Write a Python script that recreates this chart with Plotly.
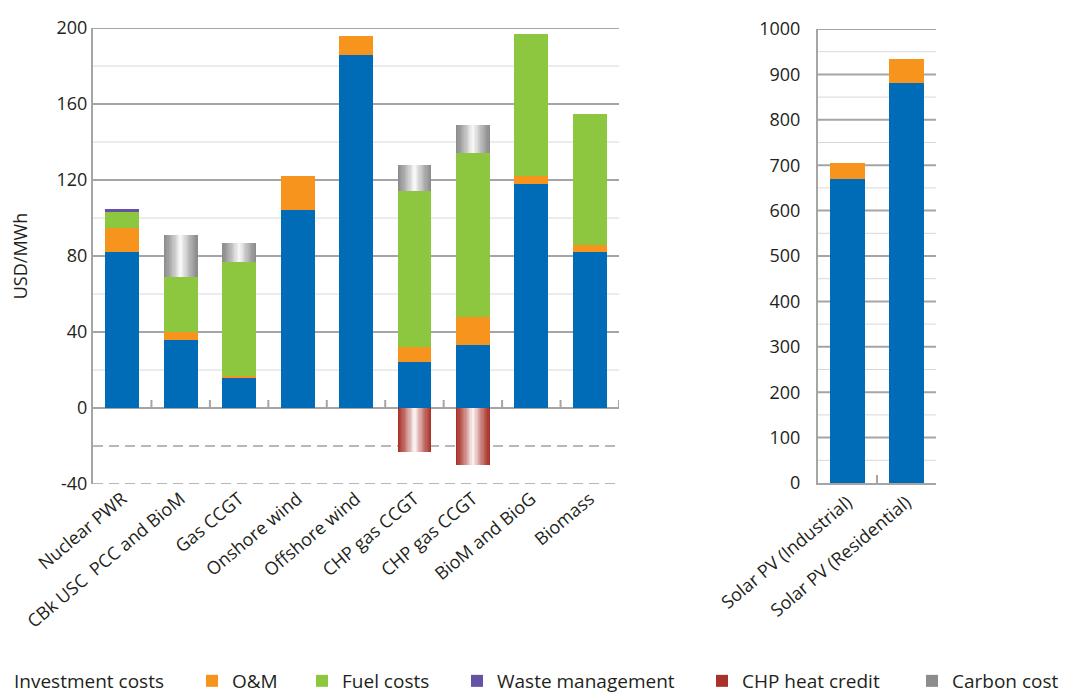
import plotly.graph_objects as go
import numpy as np

# ---------------- data ----------------
categories_left = ["Nuclear PWR", "CBk USC  PCC and BioM", "Gas CCGT", "Onshore wind",
                   "Offshore wind", "CHP gas CCGT", "CHP gas CCGT", "BioM and BioG", "Biomass"]
investment_left = [82, 36, 16, 104, 186, 24, 33, 118, 82]
om_left = [13, 4, 1, 18, 10, 8, 15, 4, 4]
fuel_left = [8, 29, 60, 0, 0, 82, 86, 75, 69]
waste_left = [2, 0, 0, 0, 0, 0, 0, 0, 0]
carbon_left = [0, 22, 10, 0, 0, 14, 15, 0, 0]
chp_credit_left = [0, 0, 0, 0, 0, -23, -30, 0, 0]

categories_right = ["Solar PV (Industrial)", "Solar PV (Residential)"]
investment_right = [670, 880]
om_right = [35, 54]

left_ticks = [-40, 0, 40, 80, 120, 160, 200]
left_major_grid = [0, 40, 80, 120, 160, 200]
left_minor_grid = [20, 60, 100, 140, 180]
left_dashed_grid = [-20, -40]
right_ticks = [0, 100, 200, 300, 400, 500, 600, 700, 800, 900, 1000]
right_minor_grid = [50, 150, 250, 350, 450, 550, 650, 750, 850, 950]

series_names = ["Investment costs", "O&M", "Fuel costs", "Waste management",
                "CHP heat credit", "Carbon cost"]

# ---------------- style ----------------
C_INV = "#006cb8"
C_OM = "#f7941d"
C_FUEL = "#8dc63f"
C_WASTE = "#6652a2"
C_CHP = "#a8322a"
C_CARBON = "#8c8c8c"
GRID_MAJOR = "#a5a5a5"
GRID_MINOR = "#d8d8d8"
TXT = "#231f20"
FONT = "Open Sans"
BAR_W = 0.58
FS = 18

# figure is placed with the page's 8px body margin; layout in figure pixels
W, H = 1063, 687
OFF = 8


def fx(px):
    return (px - OFF) / W


def fy(py):
    return 1 - (py - OFF) / H


legend_text_x = [14, 232, 342, 497, 742, 952]   # page x where each legend label starts
legend_y = 681
ITEMW = 30
legend_ids = ["legend", "legend2", "legend3", "legend4", "legend5", "legend6"]
leg_of = dict(zip(series_names, legend_ids))

x_left = np.arange(len(categories_left))
inv_l = np.array(investment_left, float)
om_l = np.array(om_left, float)
fuel_l = np.array(fuel_left, float)
waste_l = np.array(waste_left, float)
carbon_l = np.array(carbon_left, float)
chp_l = np.array(chp_credit_left, float)

base_inv = np.zeros_like(inv_l)
base_om = base_inv + inv_l
base_fuel = base_om + om_l
base_waste = base_fuel + fuel_l
base_carbon = base_waste + waste_l

inv_r = np.array(investment_right, float)
om_r = np.array(om_right, float)


def mix(c, t):
    c = c.lstrip("#")
    r, g, b = int(c[0:2], 16), int(c[2:4], 16), int(c[4:6], 16)
    r = round(r + (255 - r) * t)
    g = round(g + (255 - g) * t)
    b = round(b + (255 - b) * t)
    return f"rgb({r},{g},{b})"


fig = go.Figure()


def solid(name, x, y, base, color, xa, ya, show):
    fig.add_trace(go.Bar(
        x=x, y=y, base=base, name=name, width=BAR_W,
        marker=dict(color=color, line=dict(width=0)),
        xaxis=xa, yaxis=ya, legendgroup=name, showlegend=show, legend=leg_of[name],
    ))


def gradient(name, x, y, base, color, xa, ya, n=14):
    for k in range(n):
        frac = 1 - k / n
        d = 1 - (k + 0.5) / n  # distance from centre for the visible strip
        t = (1 - d) ** 1.3 * 0.97
        fig.add_trace(go.Bar(
            x=x, y=y, base=base, name=name, width=BAR_W * frac,
            marker=dict(color=mix(color, t) if k else color, line=dict(width=0)),
            xaxis=xa, yaxis=ya, legendgroup=name, showlegend=(k == 0), legend=leg_of[name],
        ))


solid("Investment costs", x_left, inv_l, base_inv, C_INV, "x", "y", True)
solid("O&M", x_left, om_l, base_om, C_OM, "x", "y", True)
solid("Fuel costs", x_left, fuel_l, base_fuel, C_FUEL, "x", "y", True)
solid("Waste management", x_left, waste_l, base_waste, C_WASTE, "x", "y", True)
gradient("CHP heat credit", x_left, chp_l, np.zeros_like(chp_l), C_CHP, "x", "y")
gradient("Carbon cost", x_left, carbon_l, base_carbon, C_CARBON, "x", "y")

solid("Investment costs", categories_right, inv_r, np.zeros_like(inv_r), C_INV, "x2", "y2", False)
solid("O&M", categories_right, om_r, inv_r, C_OM, "x2", "y2", False)

shapes = []
for v in left_minor_grid:
    shapes.append(dict(type="line", xref="x domain", yref="y", x0=0, x1=1, y0=v, y1=v,
                       line=dict(color=GRID_MINOR, width=1), layer="below"))
for v in left_dashed_grid:
    shapes.append(dict(type="line", xref="x domain", yref="y", x0=0, x1=1, y0=v, y1=v,
                       line=dict(color="#b8b8b8", width=2, dash="10px,6px"), layer="below"))
for v in left_major_grid:
    shapes.append(dict(type="line", xref="x domain", yref="y", x0=0, x1=1, y0=v, y1=v,
                       line=dict(color=GRID_MAJOR, width=2), layer="below"))
for i in range(len(categories_left)):
    shapes.append(dict(type="line", xref="x", yref="y", ysizemode="pixel", yanchor=0,
                       x0=i + 0.5, x1=i + 0.5, y0=0, y1=8,
                       line=dict(color=GRID_MAJOR, width=2), layer="below"))
for v in right_minor_grid:
    shapes.append(dict(type="line", xref="x2 domain", yref="y2", x0=0, x1=1, y0=v, y1=v,
                       line=dict(color=GRID_MINOR, width=1), layer="below"))
for v in right_ticks[1:]:
    shapes.append(dict(type="line", xref="x2 domain", yref="y2", x0=0, x1=1, y0=v, y1=v,
                       line=dict(color=GRID_MAJOR, width=2), layer="below"))

legends = {}
for lid, tx in zip(legend_ids, legend_text_x):
    legends[lid] = dict(orientation="h", x=fx(tx - (ITEMW + 10)), xanchor="left",
                        y=fy(legend_y), yanchor="middle", itemwidth=ITEMW,
                        font=dict(size=19, color=TXT), bgcolor="rgba(0,0,0,0)",
                        borderwidth=0)

fig.update_layout(
    width=W, height=H,
    barmode="overlay",
    bargap=0,
    paper_bgcolor="white", plot_bgcolor="white",
    margin=dict(l=0, r=0, t=0, b=0, autoexpand=False),
    font=dict(family=FONT, size=FS, color=TXT),
    shapes=shapes,
    showlegend=True,
    **legends,
    xaxis=dict(domain=[fx(93), fx(619)], range=[-0.5, len(categories_left) - 0.5],
               tickmode="array", tickvals=x_left, ticktext=categories_left,
               tickangle=-40, showline=False, showgrid=False, zeroline=False, ticks="",
               tickfont=dict(size=FS, color=TXT), automargin=False),
    yaxis=dict(domain=[fy(484), fy(28)], range=[-40, 200],
               tickmode="array", tickvals=left_ticks, ticktext=[str(v) for v in left_ticks],
               automargin=False,
               showgrid=False, zeroline=False, showline=True, linecolor=GRID_MAJOR,
               linewidth=2, ticks="", tickfont=dict(size=FS, color=TXT),
               title=dict(text="USD/MWh", font=dict(size=18, color=TXT), standoff=32)),
    xaxis2=dict(domain=[fx(818), fx(936)], anchor="y2", type="category",
                categoryarray=categories_right, tickangle=-40, automargin=False,
                showline=True, linecolor=GRID_MAJOR, linewidth=2, showgrid=False,
                ticks="inside", tickson="boundaries", ticklen=8, tickwidth=2,
                tickcolor=GRID_MAJOR, tickfont=dict(size=FS, color=TXT)),
    yaxis2=dict(domain=[fy(483), fy(29)], anchor="x2", range=[0, 1000],
                tickmode="array", tickvals=right_ticks, automargin=False,
                showgrid=False, zeroline=False, showline=True, linecolor=GRID_MAJOR,
                linewidth=2, ticks="", ticklabelstandoff=12,
                tickfont=dict(size=FS, color=TXT)),
)

fig.write_html("out.html")
